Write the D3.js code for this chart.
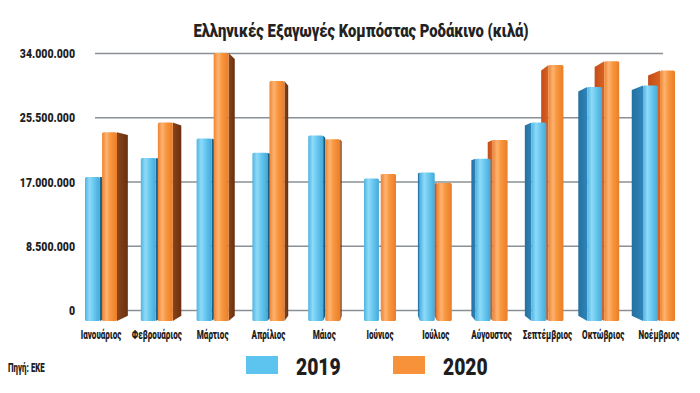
<!DOCTYPE html>
<html><head><meta charset="utf-8">
<script src="https://cdn.jsdelivr.net/npm/d3@7"></script>
<style>body{margin:0;background:#fff}svg{display:block}</style>
</head><body>
<script>
const months = ['Ιανουάριος','Φεβρουάριος','Μάρτιος','Απρίλιος','Μάιος','Ιούνιος','Ιούλιος','Αύγουστος','Σεπτέμβριος','Οκτώβριος','Νοέμβριος'];
const series = ['2019','2020'];
const values2019 = [17600000,20100000,22700000,20800000,23100000,17400000,18200000,20000000,24800000,29500000,29700000];
const values2020 = [23500000,24800000,34000000,30300000,22600000,18000000,16800000,22500000,32400000,32900000,31700000];
const tickValues = [0,8500000,17000000,25500000,34000000];
const tickLabels = ['0','8.500.000','17.000.000','25.500.000','34.000.000'];
const title = 'Ελληνικές Εξαγωγές Κομπόστας Ροδάκινο (κιλά)';
const source = 'Πηγή: ΕΚΕ';

const W=700,H=393;
const FONT="Roboto, 'Liberation Sans', sans-serif";
const svg=d3.select('body').append('svg').attr('width',W).attr('height',H);
const defs=svg.append('defs');

function grad(id, stops){
  const g=defs.append('linearGradient').attr('id',id).attr('x1','0').attr('x2','1').attr('y1','0').attr('y2','0');
  stops.forEach(s=>g.append('stop').attr('offset',s[0]).attr('stop-color',s[1]));
}
grad('gBlue',[[0,'#4fb4e2'],[0.3,'#8fdaf8'],[0.55,'#6ccbf2'],[1,'#45a9d8']]);
grad('gOrange',[[0,'#ef8430'],[0.3,'#fdb371'],[0.55,'#f8973f'],[1,'#ea7d28']]);
grad('gBlueSideR',[[0,'#1c6690'],[1,'#174f72']]);
grad('gOrangeSideR',[[0,'#8a4418'],[1,'#6a3010']]);
grad('gBlueSideL',[[0,'#2470a0'],[1,'#2f86b8']]);
grad('gOrangeSideL',[[0,'#c24d17'],[1,'#db6222']]);

const y=d3.scaleLinear().domain([0,34000000]).range([310,53]);
const x=d3.scaleBand().domain(months).range([73.1,686.9]);
const xs=d3.scaleBand().domain(series).range([11.9,43.9]).paddingInner(0.125);

// gridlines + y labels via axis
const gx0=95, gx1=663;
const ax=d3.axisLeft(y).tickValues(tickValues).tickFormat((d,i)=>tickLabels[i]).tickSize(-(gx1-gx0)).tickPadding(0);
const axg=svg.append('g').attr('transform',`translate(${gx0},0)`).call(ax);
axg.select('.domain').remove();
axg.selectAll('.tick line').attr('stroke','#8a9095').attr('stroke-width',1.4);
axg.selectAll('.tick text').remove();
axg.selectAll('.tick').append('text')
  .attr('transform','translate(-20,4.5) scale(0.78,1)')
  .attr('text-anchor','end').attr('fill','#1e1e1e')
  .style('font-family',FONT).style('font-weight',900).style('font-size','13.5px')
  .text((d,i)=>tickLabels[i]);

// bars in perspective
const VP=[375,195], f=0.042, base=321;
const back=(px,py)=>[px+f*(VP[0]-px), py+f*(VP[1]-py)];
const data=months.map((m,i)=>({m, vals:[{s:'2019',v:values2019[i]},{s:'2020',v:values2020[i]}]}));
const barsG=svg.append('g');
data.forEach(d=>{
  const gx=x(d.m);
  const items=d.vals.map(o=>{
    const x0=gx+xs(o.s), x1=x0+xs.bandwidth(), yt=y(o.v);
    return {...o,x0,x1,yt};
  });
  const order = (items[1].x1 < VP[0]+20) ? items : items.slice().reverse();
  order.forEach(b=>{
    const blue=b.s==='2019';
    if(b.x1 < VP[0]){
      const p1=back(b.x1,b.yt), p2=back(b.x1,base);
      barsG.append('path').attr('d',`M${b.x1},${b.yt}L${p1[0]},${p1[1]}L${p2[0]},${p2[1]}L${b.x1},${base}Z`)
        .attr('fill',blue?'url(#gBlueSideR)':'url(#gOrangeSideR)');
    } else if(b.x0 > VP[0]){
      const p1=back(b.x0,b.yt), p2=back(b.x0,base);
      barsG.append('path').attr('d',`M${b.x0},${b.yt}L${p1[0]},${p1[1]}L${p2[0]},${p2[1]}L${b.x0},${base}Z`)
        .attr('fill',blue?'url(#gBlueSideL)':'url(#gOrangeSideL)');
    }
    barsG.append('rect').attr('x',b.x0).attr('y',b.yt).attr('width',b.x1-b.x0).attr('height',base-b.yt)
      .attr('rx',1.5).attr('fill',blue?'url(#gBlue)':'url(#gOrange)');
  });
});

// x labels
svg.append('g').selectAll('text').data(months).join('text')
  .attr('transform',d=>`translate(${x(d)+x.bandwidth()/2},339) scale(0.6,1)`)
  .attr('text-anchor','middle').attr('fill','#1e1e1e')
  .style('font-family',FONT).style('font-weight',900).style('font-size','13.5px')
  .text(d=>d);

// title
svg.append('text').attr('transform','translate(361,37) scale(0.78,1)').attr('text-anchor','middle')
  .attr('fill','#222').style('font-family',FONT).style('font-weight',900).style('font-size','19px').text(title);

// legend
const legColors={'2019':'#5cc4ee','2020':'#f7923b'};
const legX={'2019':246,'2020':393};
series.forEach(s=>{
  svg.append('rect').attr('x',legX[s]).attr('y',356).attr('width',32).attr('height',18).attr('fill',legColors[s]);
  svg.append('text').attr('transform',`translate(${legX[s]+50},375) scale(0.84,1)`).attr('fill','#1e1e1e')
    .style('font-family',FONT).style('font-weight',900).style('font-size','23px').text(s);
});
svg.append('text').attr('transform','translate(8,372) scale(0.66,1)').attr('fill','#1e1e1e')
  .style('font-family',FONT).style('font-weight',900).style('font-size','12px').text(source);
</script>
</body></html>
